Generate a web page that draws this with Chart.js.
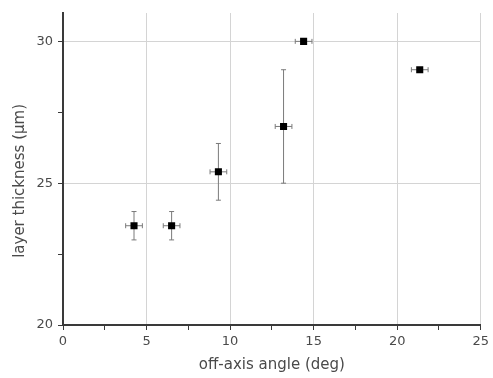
<!DOCTYPE html>
<html>
<head>
<meta charset="utf-8">
<script src="https://cdn.jsdelivr.net/npm/chart.js@4"></script>
<style>
  html, body { margin: 0; padding: 0; background: #fff; }
  #wrap { width: 493px; height: 378px; }
</style>
</head>
<body>
<div id="wrap"><canvas id="chart" width="493" height="378"></canvas></div>
<script>
// values
const angle = [4.25, 6.5, 9.3, 13.2, 14.4, 21.35];
const thickness = [23.5, 23.5, 25.4, 27.0, 30.0, 29.0];
const angleErr = [0.5, 0.5, 0.5, 0.5, 0.5, 0.5];
const thicknessErr = [0.5, 0.5, 1.0, 2.0, 0.1, 0.0];

const xTicks = [0, 5, 10, 15, 20, 25];
const yTicks = [20, 25, 30];

const textColor = '#4a4a4a';
const gridColor = '#d4d4d4';
const axisColor = '#3a3a3a';

const points = angle.map((a, i) => ({ x: a, y: thickness[i] }));

// error bars drawn under the markers
const errorBars = {
    id: 'errorBars',
    beforeDatasetsDraw(chart) {
        const { ctx, scales: { x, y } } = chart;
        const cap = 2.5;
        ctx.save();
        ctx.strokeStyle = '#7a7a7a';
        ctx.lineWidth = 1;
        points.forEach((p, i) => {
            const px = x.getPixelForValue(p.x);
            const py = y.getPixelForValue(p.y);
            const x0 = x.getPixelForValue(p.x - angleErr[i]);
            const x1 = x.getPixelForValue(p.x + angleErr[i]);
            ctx.beginPath();
            ctx.moveTo(x0, py); ctx.lineTo(x1, py);
            ctx.moveTo(x0, py - cap); ctx.lineTo(x0, py + cap);
            ctx.moveTo(x1, py - cap); ctx.lineTo(x1, py + cap);
            if (thicknessErr[i] > 0) {
                const y0 = y.getPixelForValue(p.y - thicknessErr[i]);
                const y1 = y.getPixelForValue(p.y + thicknessErr[i]);
                ctx.moveTo(px, y0); ctx.lineTo(px, y1);
                ctx.moveTo(px - cap, y0); ctx.lineTo(px + cap, y0);
                ctx.moveTo(px - cap, y1); ctx.lineTo(px + cap, y1);
            }
            ctx.stroke();
        });
        ctx.restore();
    }
};

const isMajor = (v, list) => list.includes(v);

new Chart(document.getElementById('chart'), {
    type: 'scatter',
    data: {
        datasets: [{
            data: points,
            pointStyle: 'rect',
            pointRadius: 5,
            pointHoverRadius: 5,
            backgroundColor: '#000',
            borderColor: '#000',
            borderWidth: 0
        }]
    },
    options: {
        responsive: false,
        animation: false,
        layout: { padding: { top: 13, right: 11, left: 0, bottom: 0 } },
        plugins: { legend: { display: false }, tooltip: { enabled: false } },
        scales: {
            x: {
                type: 'linear',
                min: 0,
                max: 25,
                afterFit(scale) { scale.height = 53; },
                border: { color: axisColor, width: 2 },
                grid: {
                    color: c => isMajor(c.tick.value, xTicks) ? gridColor : 'rgba(0,0,0,0)',
                    tickColor: axisColor,
                    tickLength: 5
                },
                ticks: {
                    stepSize: 2.5,
                    includeBounds: false,
                    maxRotation: 0,
                    autoSkip: false,
                    padding: 4,
                    color: textColor,
                    font: { family: 'DejaVu Sans', size: 13 },
                    callback: v => isMajor(v, xTicks) ? String(v) : ''
                },
                title: {
                    display: true,
                    text: 'off-axis angle (deg)',
                    color: textColor,
                    font: { family: 'DejaVu Sans', size: 15 },
                    padding: { top: 0, bottom: 4 }
                }
            },
            y: {
                type: 'linear',
                min: 20,
                max: 31,
                afterFit(scale) { scale.width = 63; },
                border: { color: axisColor, width: 2 },
                grid: {
                    color: c => isMajor(c.tick.value, yTicks) ? gridColor : 'rgba(0,0,0,0)',
                    tickColor: axisColor,
                    tickLength: 5
                },
                ticks: {
                    stepSize: 2.5,
                    includeBounds: false,
                    autoSkip: false,
                    padding: 5,
                    color: textColor,
                    font: { family: 'DejaVu Sans', size: 13 },
                    callback: v => isMajor(v, yTicks) ? String(v) : ''
                },
                title: {
                    display: true,
                    // trailing spaces nudge the label down to where it sits in the original
                    text: 'layer thickness (\u00b5m)\u00a0\u00a0\u00a0\u00a0\u00a0',
                    color: textColor,
                    font: { family: 'DejaVu Sans', size: 15 },
                    padding: { top: 11, bottom: 0 }
                }
            }
        }
    },
    plugins: [errorBars]
});
</script>
</body>
</html>
